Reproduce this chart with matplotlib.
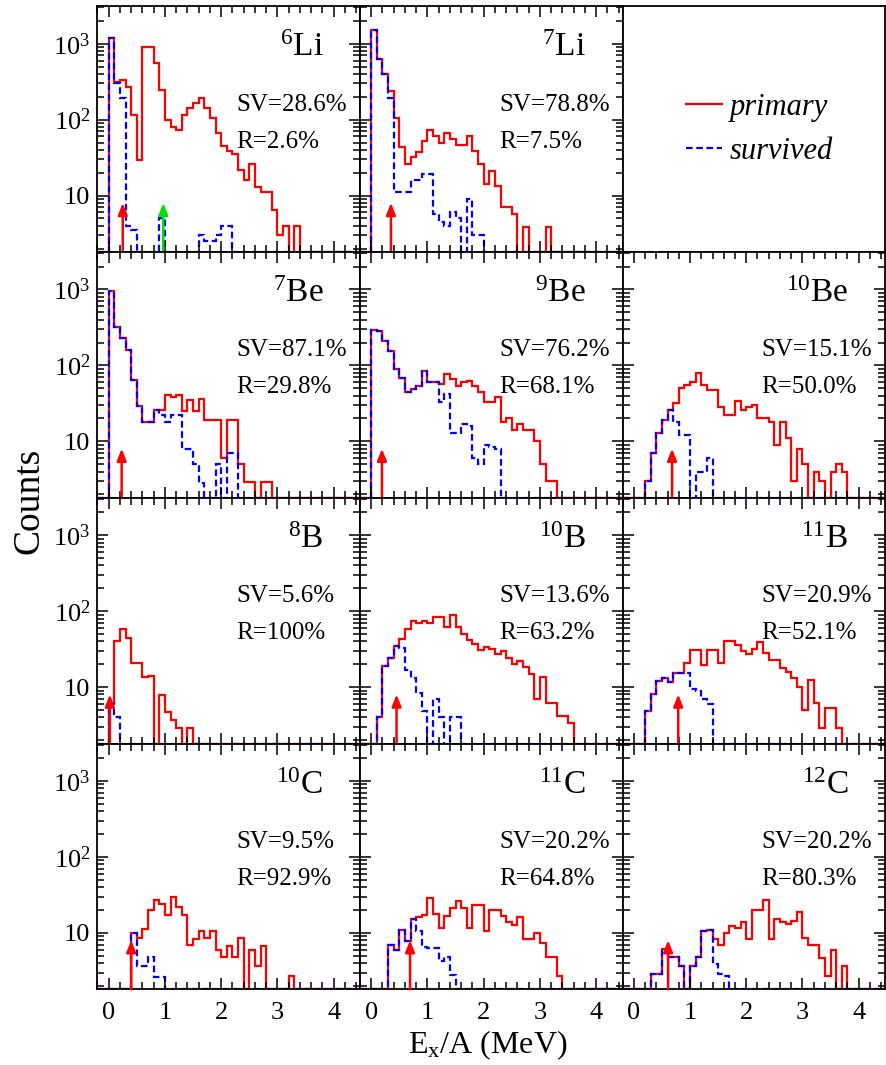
import numpy as np
import matplotlib
matplotlib.use("Agg")
import matplotlib.pyplot as plt
from matplotlib.lines import Line2D
from matplotlib.ticker import MultipleLocator, LogLocator, FuncFormatter, NullFormatter

plt.rcParams['font.family'] = ['Liberation Serif', 'DejaVu Serif']
plt.rcParams['mathtext.fontset'] = 'custom'
plt.rcParams['mathtext.rm'] = 'Liberation Serif'
plt.rcParams['mathtext.it'] = 'Liberation Serif:italic'

# counts per 0.1 MeV bin of Ex/A, first bin starts at 0
li6_primary = [1200, 310, 330, 270, 116, 29, 900, 900, 560, 246, 100, 79, 74, 116, 141, 165, 191, 141,
               105, 67, 45, 39, 35, 22, 16, 26, 13, 11, 11, 6.5, 3, 4, 0, 4]
li6_survived = [1200, 300, 190, 4, 3.5, 0, 0, 0, 0, 5, 0, 0, 0, 0, 0, 0, 3, 2.5, 2.5, 3, 4, 4]

li7_primary = [1500, 630, 400, 235, 105, 43, 26, 32, 37, 52, 74, 60, 50, 67, 55, 47, 47, 60, 39, 26,
               14, 21, 13.5, 7, 7, 5.8, 0, 3.9, 0, 0, 0, 3.9]
li7_survived = [1500, 630, 400, 190, 11, 11, 11, 16, 16, 19, 19, 5.8, 4.5, 4, 6, 5, 0, 9, 3, 3]

be7_primary = [960, 320, 229, 160, 65, 29, 18, 18, 26, 26, 41, 38, 41, 25, 35, 25, 36, 19, 19, 19,
               6, 19, 19, 5, 2.9, 2.9, 0, 2.9, 2.9]
be7_survived = [960, 320, 229, 160, 65, 29, 18, 18, 26, 22, 18, 22, 22, 8, 8, 5, 2.8, 0, 0, 5, 0, 7, 7]

be9_primary = [295, 280, 207, 154, 89, 69, 44, 49, 54, 84, 60, 60, 57, 76, 66, 54, 60, 63, 54, 44,
               33, 33, 38, 18, 20, 14, 17, 14, 14, 10, 5, 3, 3]
be9_survived = [295, 280, 207, 154, 89, 69, 44, 49, 54, 84, 60, 60, 33, 42, 13, 13, 17, 16, 6, 5,
                9, 8.5, 8]

be10_primary = [0, 0, 3, 7, 13, 19, 26, 32, 51, 56, 60, 79, 55, 48, 48, 28, 22, 22, 34, 26, 28, 30,
                20, 20, 18, 9, 18, 11, 3, 8, 5, 0, 4, 3, 0, 4, 5, 4]
be10_survived = [0, 0, 3, 7, 13, 19, 26, 18, 12, 12, 0, 4, 4, 6]

b8_primary = [6, 40, 58, 44, 21, 21, 13.5, 14, 0, 7.8, 4.7, 3.7, 2.9, 0, 2.9]
b8_survived = [6, 4]

b10_primary = [0, 4, 19, 24, 35, 43, 58, 74, 70, 74, 70, 83, 83, 61, 90, 62, 50, 42, 37, 31, 34, 32,
               27.5, 30, 24, 20, 22, 18.5, 15, 7, 13.7, 6.2, 6.2, 4.2, 4.2, 3.4]
b10_survived = [0, 4, 19, 24, 35, 33, 17, 13, 8.4, 4.8, 0, 7, 4, 0, 4, 4]

b11_primary = [0, 0, 4.8, 8, 12.2, 13.3, 11.8, 15.5, 15.5, 21, 31, 31, 19.5, 31, 31, 21, 41, 41, 36,
               30, 27, 32, 39, 28, 22.6, 22.6, 18, 16, 13, 10, 5, 12.5, 6.2, 2.9, 5.3, 5.3, 2.9]
b11_survived = [0, 0, 4.8, 8, 12.2, 13.3, 11.8, 15.5, 15.5, 15.5, 9.3, 9, 7, 6]

c10_primary = [0, 0, 0, 0, 10, 8.5, 11.3, 20, 27, 24, 17, 30, 22, 17, 7, 8.3, 10.7, 8.5, 10.7, 5.9,
               4.8, 6.7, 4.8, 8.5, 0, 5.9, 3.7, 6.7, 0, 0, 0, 0, 2.7]
c10_survived = [0, 0, 0, 0, 10, 3.7, 3.7, 4.8, 2.6, 2.6]

c11_primary = [0, 0, 0, 7, 5.9, 10.8, 7.7, 15, 16, 17, 29, 17.7, 11.7, 16.8, 21, 26, 21, 11.7, 23, 23,
               10.5, 19.7, 19.7, 16.8, 13.7, 12.5, 16, 8.3, 8.3, 10, 7.3, 4.8, 4.8, 2.7]
c11_survived = [0, 0, 0, 7, 5.9, 10.8, 7.7, 15, 10.5, 6.6, 6.3, 6.3, 4.2, 4.8, 2.8]

c12_primary = [0, 0, 0, 2.9, 2.9, 6.1, 4.8, 4.8, 3.7, 0, 3.7, 4.8, 10.5, 11, 8.3, 7, 10, 12.3, 11.5,
               13.7, 8.3, 19.7, 20, 27, 8.3, 15, 13.7, 13, 14.4, 18.7, 8.5, 7, 7, 4.6, 2.7, 5.9, 0, 3.7]
c12_survived = [0, 0, 0, 2.9, 2.9, 6.1, 4.8, 4.8, 3.7, 0, 3.7, 4.8, 10.5, 11, 3.9, 2.9, 2.7]

# panel order, row by row (None = legend panel)
nuclei = [('6', 'Li'), ('7', 'Li'), None,
          ('7', 'Be'), ('9', 'Be'), ('10', 'Be'),
          ('8', 'B'), ('10', 'B'), ('11', 'B'),
          ('10', 'C'), ('11', 'C'), ('12', 'C')]
primary = [li6_primary, li7_primary, None, be7_primary, be9_primary, be10_primary,
           b8_primary, b10_primary, b11_primary, c10_primary, c11_primary, c12_primary]
survived = [li6_survived, li7_survived, None, be7_survived, be9_survived, be10_survived,
            b8_survived, b10_survived, b11_survived, c10_survived, c11_survived, c12_survived]
sv_values = ['28.6%', '78.8%', None, '87.1%', '76.2%', '15.1%', '5.6%', '13.6%', '20.9%',
             '9.5%', '20.2%', '20.2%']
r_values = ['2.6%', '7.5%', None, '29.8%', '68.1%', '50.0%', '100%', '63.2%', '52.1%',
            '92.9%', '64.8%', '80.3%']
# threshold arrows (Ex/A in MeV)
red_arrows = [0.25, 0.35, None, 0.23, 0.19, 0.68, 0.02, 0.45, 0.79, 0.40, 0.69, 0.61]
green_arrows = [0.97, None, None, None, None, None, None, None, None, None, None, None]

BIN_W = 0.1
N_BINS = 47
YMIN, YMAX = 1.8, 3100
ARROW_TOP = 8
RED = '#ff0000'
BLUE = '#0000ff'
GREEN = '#00e000'
DASH = (0, (3, 1.6))


def draw_hist(ax, vals, **kw):
    v = np.zeros(N_BINS + 2)
    v[2:2 + len(vals)] = vals
    edges = BIN_W * np.arange(-2, N_BINS + 1)
    ax.stairs(np.maximum(v, YMIN), edges, baseline=None, **kw)


def draw_arrow(ax, x, color):
    ax.annotate('', xy=(x, ARROW_TOP), xytext=(x, YMIN),
                arrowprops=dict(arrowstyle='-|>,head_length=0.7,head_width=0.28',
                                color=color, lw=1.8, shrinkA=0, shrinkB=0,
                                mutation_scale=10))


fig, axes = plt.subplots(4, 3, sharex=True, sharey=True, figsize=(8.86, 10.65), dpi=100,
                         gridspec_kw=dict(hspace=0, wspace=0, left=0.11, right=0.999,
                                          top=0.994, bottom=0.071))

axes[0, 0].set_yscale('log')
axes[0, 0].set_ylim(YMIN, YMAX)
axes[0, 0].set_xlim(-0.2, 4.47)
axes[0, 0].xaxis.set_major_locator(MultipleLocator(1))
axes[0, 0].xaxis.set_minor_locator(MultipleLocator(0.2))
axes[0, 0].yaxis.set_major_locator(LogLocator(base=10))
axes[0, 0].yaxis.set_minor_locator(LogLocator(base=10, subs=np.arange(2, 10)))
axes[0, 0].yaxis.set_minor_formatter(NullFormatter())
axes[0, 0].yaxis.set_major_formatter(FuncFormatter(
    lambda v, p: '10' if abs(v - 10) < 1e-6 else r'$10^{%d}$' % round(np.log10(v))))

for i, ax in enumerate(axes.flat):
    for s in ax.spines.values():
        s.set_linewidth(1.3)
    ax.tick_params(which='both', direction='in', top=True, right=True, width=1.1,
                   labelsize=19)
    ax.tick_params(which='major', length=8)
    ax.tick_params(which='minor', length=5)
    ax.tick_params(axis='x', which='major', pad=9)
    ax.tick_params(axis='y', which='major', pad=5)

    if nuclei[i] is None:
        ax.tick_params(which='both', length=0)
        handles = [Line2D([], [], color=RED, lw=1.6),
                   Line2D([], [], color=BLUE, lw=1.6, linestyle=DASH)]
        ax.legend(handles, ['primary', 'survived'], loc='center left',
                  bbox_to_anchor=(0.24, 0.5), frameon=False, borderaxespad=0, borderpad=0,
                  prop={'style': 'italic', 'size': 22}, handlelength=1.2,
                  handletextpad=0.25, labelspacing=0.5)
        continue

    draw_hist(ax, primary[i], color=RED, lw=1.6)
    draw_hist(ax, survived[i], color=BLUE, lw=1.6, linestyle=DASH)
    draw_arrow(ax, red_arrows[i], RED)
    if green_arrows[i] is not None:
        draw_arrow(ax, green_arrows[i], GREEN)

    mass, sym = nuclei[i]
    ax.text(0.86, 0.83, r'$^{%s}$' % mass + sym, transform=ax.transAxes,
            ha='right', va='center', fontsize=24)
    ax.text(0.53, 0.60, 'SV=' + sv_values[i], transform=ax.transAxes,
            ha='left', va='center', fontsize=18)
    ax.text(0.53, 0.45, 'R=' + r_values[i], transform=ax.transAxes,
            ha='left', va='center', fontsize=18)

fig.text(0.033, 0.53, 'Counts', rotation=90, ha='center', va='center', fontsize=27)
fig.text(0.55, 0.019, r'E$_\mathrm{x}$/A (MeV)', ha='center', va='center', fontsize=23)

fig.savefig('out.png', dpi=100)
